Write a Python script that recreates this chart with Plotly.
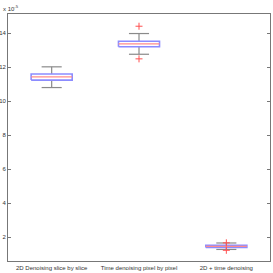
import plotly.graph_objects as go

categories = ["2D Denoising slice by slice", "Time denoising pixel by pixel", "2D + time denoising"]
positions = [1, 2, 3]
lower_whisker = [10.80, 12.76, 1.27]
q1 = [11.24, 13.20, 1.39]
median = [11.43, 13.37, 1.45]
q3 = [11.60, 13.53, 1.51]
upper_whisker = [12.02, 13.98, 1.65]
outlier_x = [2, 2, 3, 3]
outlier_y = [14.41, 12.49, 1.66, 1.22]
y_ticks = [2, 4, 6, 8, 10, 12, 14]

BW = 0.235   # box half width
CW = 0.115   # whisker cap half width

bx, by, mx, my, wx, wy = [], [], [], [], [], []
for p, a, b, m, c, d in zip(positions, lower_whisker, q1, median, q3, upper_whisker):
    bx += [p - BW, p + BW, p + BW, p - BW, p - BW, None]
    by += [b, b, c, c, b, None]
    mx += [p - BW, p + BW, None]
    my += [m, m, None]
    wx += [p, p, None, p, p, None, p - CW, p + CW, None, p - CW, p + CW, None]
    wy += [c, d, None, b, a, None, d, d, None, a, a, None]

fig = go.Figure()
fig.add_trace(go.Scatter(x=wx, y=wy, mode="lines", line=dict(color="#8a8a8a", width=1.2), hoverinfo="skip"))
fig.add_trace(go.Scatter(x=bx, y=by, mode="lines", line=dict(color="#8c8cff", width=1.6), hoverinfo="skip"))
fig.add_trace(go.Scatter(x=mx, y=my, mode="lines", line=dict(color="#ff8c8c", width=1.4), hoverinfo="skip"))
fig.add_trace(go.Scatter(x=outlier_x, y=outlier_y, mode="markers",
                         marker=dict(symbol="cross-thin-open", size=5, color="#ff5050",
                                     line=dict(color="#ff5050", width=1)),
                         hoverinfo="skip"))

axis_font = dict(family="Liberation Sans, Arial, sans-serif", size=6, color="#333")
fig.update_layout(
    width=273, height=273,
    margin=dict(l=8, r=3, t=14, b=12, autoexpand=False),
    paper_bgcolor="white", plot_bgcolor="white",
    showlegend=False,
    font=axis_font,
    xaxis=dict(range=[0.5, 3.5], tickmode="array", tickvals=positions, ticktext=categories,
               showline=True, linecolor="#777", linewidth=1, mirror=True, ticks="",
               showgrid=False, zeroline=False, tickfont=axis_font, ticklabelstandoff=1,
               automargin=False),
    yaxis=dict(range=[0.59, 15.13], tickmode="array", tickvals=y_ticks,
               showline=True, linecolor="#777", linewidth=1, mirror="ticks", ticks="inside",
               ticklen=3, tickcolor="#777", showgrid=False, zeroline=False, tickfont=axis_font,
               ticklabelstandoff=0, automargin=False),
    annotations=[dict(text="x 10<sup>-5</sup>", xref="paper", yref="paper", x=0, y=1,
                      xanchor="left", yanchor="bottom", showarrow=False, xshift=-7, yshift=0,
                      font=dict(family="Liberation Sans, Arial, sans-serif", size=6, color="#333"))],
)
fig.write_html("out.html", config={"displayModeBar": False},
               post_script="document.body.style.margin='0';document.body.style.overflow='hidden';")
